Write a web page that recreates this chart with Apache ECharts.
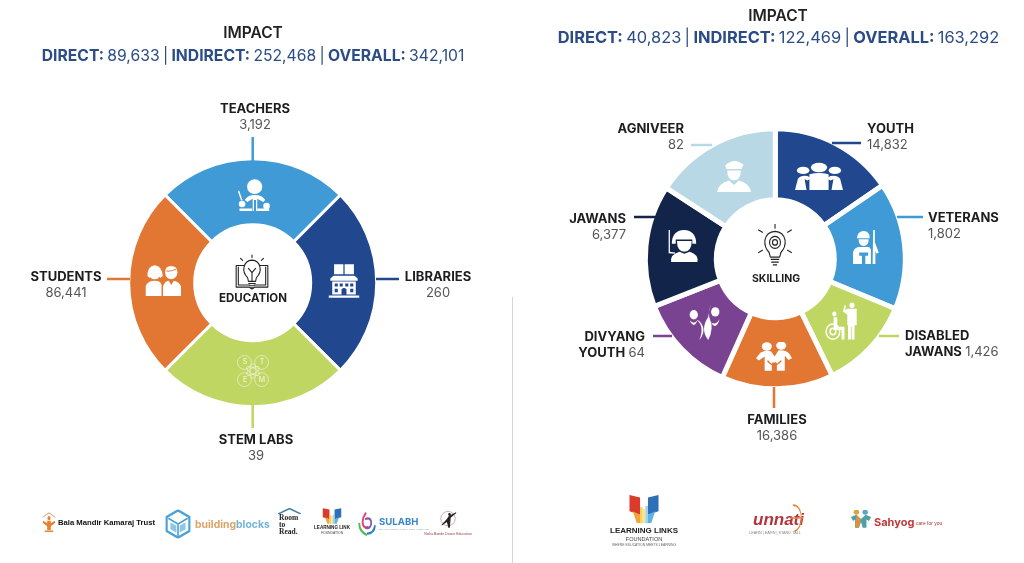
<!DOCTYPE html>
<html><head><meta charset="utf-8">
<style>html,body{margin:0;padding:0;background:#fff}#c{width:1024px;height:563px}</style>
<script src="https://cdn.jsdelivr.net/npm/echarts@6/dist/echarts.min.js"></script>
</head><body><div id="c"></div>
<script>
// ---- data ----
const eduNames = ['TEACHERS','LIBRARIES','STEM LABS','STUDENTS'];
const eduValues = ['3,192','260','39','86,441'];
const eduSliceAngles = [90,90,90,90];
const eduColors = ['#3f9ad6','#21478f','#c0d663','#e27633'];

const skillNames = ['YOUTH','VETERANS','DISABLED JAWANS','FAMILIES','DIVYANG YOUTH','JAWANS','AGNIVEER'];
const skillValues = ['14,832','1,802','1,426','16,386','64','6,377','82'];
const skillSliceAngles = [55.6,57,41.5,50,44.5,54.5,57];
const skillColors = ['#21478f','#3f9ad6','#c0d663','#e27633','#7a4392','#13244a','#b9d8e6'];

const eduImpact = ['89,633','252,468','342,101'];
const skillImpact = ['40,823','122,469','163,292'];

// ---- label layout (page pixels) ----
const eduAnchors = [[255,117,'center'],[438,285,'center'],[256,448,'center'],[66,285,'center']];
const skillAnchors = [[867,137,'left'],[928,226,'left'],[905,344,'left'],[777,428,'center'],[645,345,'right'],[626,227,'right'],[684,137,'right']];
const eduLeaders = [[252.7,137,252.7,161],[376,279,399,279],[252.7,405,252.7,428],[107,279,130,279]];
const skillLeaders = [[832,143,861,143],[897,217,923,217],[879,336,899,336],[774,387,774,408],[653,336,672,336],[634,217,655,217],[691,145,712,145]];

const FONT = 'Inter, "Open Sans", sans-serif';
const NAVY = '#2b4c86';
const rich = {
  n:{fontFamily:FONT,fontWeight:700,fontSize:13,color:'#1d1d1f',lineHeight:15.5},
  v:{fontFamily:FONT,fontWeight:400,fontSize:13,color:'#555',lineHeight:15.5}
};
function labelText(name,val){
  if(name==='DIVYANG YOUTH') return '{n|DIVYANG}\n{n|YOUTH} {v|'+val+'}';
  if(name==='DISABLED JAWANS') return '{n|DISABLED}\n{n|JAWANS} {v|'+val+'}';
  return '{n|'+name+'}\n{v|'+val+'}';
}
function pie(center,radius,start,border,names,vals,angles,colors,anchors){
  return {type:'pie',center,radius,startAngle:start,clockwise:true,silent:true,animation:false,
    itemStyle:{borderColor:'#fff',borderWidth:border},
    labelLine:{show:false},
    data:names.map((n,i)=>({name:n,value:angles[i],
      itemStyle:{color:colors[i]},
      label:{show:true,overflow:'none',formatter:labelText(n,vals[i]),rich,align:anchors[i][2]}})),
    labelLayout:p=>{const a=anchors[p.dataIndex];return {x:a[0],y:a[1],align:a[2],verticalAlign:'middle'};}
  };
}

// ---- icons ----
function svg(w,h,inner){return 'data:image/svg+xml;charset=utf-8,'+encodeURIComponent('<svg xmlns="http://www.w3.org/2000/svg" width="'+w*3+'" height="'+h*3+'" viewBox="0 0 100 100" preserveAspectRatio="none">'+inner+'</svg>');}
function img(cx,cy,w,h,inner){return {type:'image',z:20,silent:true,style:{image:svg(w,h,inner),x:cx-w/2,y:cy-h/2,width:w,height:h}};}
const W='fill="#fff"';
const icTeacher='<g '+W+'><circle cx="52" cy="24" r="23"/><path d="M22 66Q30 50 52 50Q76 50 84 66L78 72L60 62V100H56V66H50V100H46V62L30 72Z"/><circle cx="14" cy="78" r="10"/><circle cx="88" cy="84" r="10"/><path d="M1 38L5 36L15 66L11 68Z"/><path d="M6 92H44V100H6ZM60 92H96V100H60Z"/></g>';
const icStudents='<g '+W+'><circle cx="27" cy="32" r="16"/><path d="M7 38Q6 6 27 4Q48 6 49 38L42 44V28Q27 26 14 28V44Z"/><path d="M2 100V68Q8 52 27 52Q44 52 46 66V100Z"/><path d="M72 6Q90 6 90 26Q90 46 72 48Q56 46 56 26Q56 6 72 6Z" /><path d="M50 100V70Q54 54 66 52L73 66L80 52Q96 56 100 70V100Z"/></g><path d="M60 22Q72 24 86 16" stroke="#e27633" stroke-width="3" fill="none"/>';
const icLib='<g '+W+'><path d="M18 6H48V34H18ZM52 6H82V34H52Z"/><path d="M6 46L16 38H84L94 46V52H6Z"/><path fill-rule="evenodd" d="M12 54H88V90H12ZM20 60V68H30V60ZM36 60V68H46V60ZM54 60V68H64V60ZM70 60V68H80V60ZM20 74V84H30V74ZM70 74V84H80V74ZM42 90H58V76Q50 68 42 76Z"/><path d="M0 93H100V99H0Z"/></g>';
const icBulb=(s)=>'<g fill="none" stroke="#222" stroke-width="'+s+'" stroke-linecap="round" stroke-linejoin="round">';
const icEdu=icBulb(3)+'<path d="M38 66Q24 52 28 36Q32 18 50 17Q68 18 72 36Q76 52 62 66L60 76H40Z"/><path d="M41 82H59M43 88H57M46 94H54"/><path d="M50 74V50M50 52L40 40M50 52L60 40"/><path d="M50 3V10M18 12L24 18M82 12L76 18"/><path d="M28 32H6V92H42L50 97L58 92H94V32H72"/><path d="M12 36V86H44M88 36V86H56"/></g>';
const icSkill=icBulb(2.6)+'<path d="M36 62Q24 50 26 35Q30 17 50 16Q70 17 74 35Q76 50 64 62L61 72H39Z"/><path d="M41 77H59M42 83H58M46 89H54"/><circle cx="50" cy="40" r="13"/><circle cx="50" cy="40" r="6"/><path d="M50 0V9M11 13L20 18M89 13L80 18M11 62L20 57M89 62L80 57"/></g>';
const icYouth='<g '+W+'><circle cx="50" cy="20" r="17"/><circle cx="17" cy="30" r="13"/><circle cx="83" cy="30" r="13"/><path d="M30 44Q50 34 70 44V100H30Z"/><path d="M0 100L6 60Q12 46 26 50L34 58L26 66L20 62L24 100ZM100 100L94 60Q88 46 74 50L66 58L74 66L80 62L76 100Z"/></g>';
const icAgni='<g '+W+'><path d="M24 18Q50 -6 78 16L72 28H28Z"/><path d="M30 32H70Q70 58 50 60Q30 58 30 32Z"/><path d="M0 92Q4 68 36 60L50 72L64 60Q96 68 100 92Z"/></g>';
const icVet='<g '+W+'><path d="M14 24Q16 4 38 3Q60 4 60 24Z"/><path d="M20 27H56Q56 46 38 47Q20 46 20 27Z"/><path d="M0 100V66Q2 54 20 50H56Q62 52 64 58V100H44V76H54V66H22V76H32V100Z"/><path d="M72 0H78V36L92 66L84 70L80 62V100H70Z"/></g>';
const icJawan='<g '+W+'><path d="M12 46Q12 8 50 6Q88 8 88 46H76V34H24V46Z"/><path d="M28 38H74Q74 68 51 70Q28 68 28 38Z"/><path d="M10 100Q6 78 36 70L51 76L68 70Q96 78 92 100Z"/><path d="M2 6H6V70L22 72V76L2 74Z"/></g>';
const icDisab='<g '+W+'><circle cx="75" cy="8" r="7"/><path d="M62 17H88V58H82V94H74V62H72V94H64V58H62V32L50 24L54 8L58 9L56 20Z"/><circle cx="26" cy="30" r="6"/><path d="M24 38H34V62H54V94H46V70H24Z"/></g><g fill="none" stroke="#fff"><circle cx="22" cy="74" r="19" stroke-width="4"/><circle cx="22" cy="74" r="8" stroke-width="4"/></g>';
const icFam='<g '+W+'><circle cx="30" cy="15" r="14"/><circle cx="70" cy="12" r="14"/><path d="M12 36Q28 24 42 32L52 48L62 28Q80 24 92 38L100 54L90 60L80 46V96H58V70Q52 60 44 70V96H24V48L8 62L0 54Z"/><circle cx="50" cy="58" r="10"/></g><path d="M32 62Q50 92 70 62" stroke="#e27633" stroke-width="4" fill="none"/>';
const icDiv='<g '+W+'><circle cx="15" cy="30" r="13"/><circle cx="82" cy="22" r="13"/><path d="M32 100Q50 64 24 44Q36 46 44 64Q50 82 32 100Z"/><path d="M60 100Q34 70 60 36L68 0Q58 30 66 44Q78 70 60 100Z"/><path d="M2 46Q16 58 26 46Q16 70 2 46ZM96 42Q82 62 68 50Q84 76 96 42Z"/></g>';
const icAtom='<g fill="none" stroke="#eef3d6" stroke-width="2.2"><circle cx="24" cy="24" r="21"/><circle cx="76" cy="24" r="21"/><circle cx="24" cy="76" r="21"/><circle cx="76" cy="76" r="21"/><ellipse cx="50" cy="50" rx="9" ry="22"/><ellipse cx="50" cy="50" rx="9" ry="22" transform="rotate(60 50 50)"/><ellipse cx="50" cy="50" rx="9" ry="22" transform="rotate(120 50 50)"/></g>';
const logoPerson='<g fill="#e8802e"><circle cx="50" cy="32" r="10"/><path d="M38 44H62V56L88 44L92 54L62 70V88H38V70L8 54L12 44L38 56Z"/><path d="M22 90H78V98H22Z"/></g><path d="M8 28L50 6L92 28" stroke="#d8a070" stroke-width="5" fill="none"/>';
const logoHex='<path d="M50 3L92 26V74L50 97L8 74V26Z" fill="none" stroke="#4ba3d4" stroke-width="8"/><path d="M50 50L14 30M50 50L86 30M50 50V92" stroke="#4ba3d4" stroke-width="6"/><path d="M22 44L44 56V80L22 68ZM78 44L56 56V80L78 68Z" fill="#8cc7e6"/>';
const logoBooks='<path d="M6 2L38 10V70L6 58Z" fill="#dd3a2e"/><path d="M94 2L62 10V70L94 58Z" fill="#2e6fb7"/><path d="M16 58L38 70V98H28Z" fill="#f2a33a"/><path d="M38 44H46V100H38Z" fill="#f8d25a"/><path d="M46 50H54V98H46Z" fill="#f7e58c"/><path d="M54 40H62V100H54Z" fill="#9fd3ec"/><path d="M84 58L62 70V98H72Z" fill="#5fb2e2"/>';
const logoSwirl='<path d="M45 3Q20 30 30 55Q38 70 58 62" fill="none" stroke="#e8407d" stroke-width="10"/><path d="M10 45Q6 80 50 96" fill="none" stroke="#55b85a" stroke-width="10"/><path d="M92 56Q88 90 50 90" fill="none" stroke="#2f80c8" stroke-width="10"/><path d="M40 30Q74 18 72 50Q66 72 42 66" fill="none" stroke="#8a55b0" stroke-width="9"/>';
const logoDancer='<circle cx="50" cy="48" r="38" fill="none" stroke="#c98e96" stroke-width="4"/><g fill="#222"><circle cx="58" cy="26" r="7"/><path d="M54 34L92 14L94 18L64 44L60 96H52L44 66L18 84L16 80L44 50Z"/></g>';
const logoRoof='<path d="M0 100L50 10L100 100" fill="none" stroke="#3b7ea8" stroke-width="14"/>';
const logoKids='<g><circle cx="28" cy="14" r="13" fill="#e8a03a"/><circle cx="70" cy="14" r="13" fill="#5aa6c8"/><path d="M2 40L28 28L50 50L72 28L98 40L88 60L76 52V96H58L50 66L40 96H22V52L12 60Z" fill="#4fa0a8"/><path d="M28 30L50 50L40 96H22Z" fill="#e0903a"/></g>';
const logoArc='<path d="M18 4Q78 4 84 50Q80 88 30 98" fill="none" stroke="#e6873a" stroke-width="7"/><path d="M2 50H96" stroke="#e6873a" stroke-width="5"/>';

function T(x,y,text,font,fill,align){return {type:'text',z:20,silent:true,style:{x,y,text,font,fill,textAlign:align||'left',textVerticalAlign:'middle'}};}
function lines(arr,colors,w){return arr.map((l,i)=>({type:'line',z:20,silent:true,shape:{x1:l[0],y1:l[1],x2:l[2],y2:l[3]},style:{stroke:colors[i],lineWidth:w}}));}
function impact(cx,y,v,size){return {type:'text',z:20,silent:true,style:{x:cx,y,textAlign:'center',textVerticalAlign:'middle',
  text:'{b|DIRECT:} {r|'+v[0]+'} {r||} {b|INDIRECT:} {r|'+v[1]+'} {r||} {b|OVERALL:} {r|'+v[2]+'}',
  rich:{b:{font:'700 '+size+'px '+FONT,fill:NAVY},r:{font:'400 '+size+'px '+FONT,fill:NAVY}}}};}

const HF='"Liberation Sans", Arial, sans-serif';
const graphics=[
  {type:'line',z:20,silent:true,shape:{x1:512.5,y1:297,x2:512.5,y2:563},style:{stroke:'#d6d6d6',lineWidth:1}},
  T(253,33,'IMPACT','600 15.5px '+FONT,'#222','center'),
  impact(253,56,eduImpact,15.7),
  T(778,16,'IMPACT','600 15.5px '+FONT,'#222','center'),
  impact(778.5,38,skillImpact,16.4),
  T(253,299,'EDUCATION','700 11.5px '+FONT,'#1d1d1f','center'),
  T(776,279,'SKILLING','700 10.5px '+FONT,'#1d1d1f','center'),
  ...lines(eduLeaders,eduColors,2.5),
  ...lines(skillLeaders,skillColors,2.5),
  img(254,195,33,32,icTeacher),
  img(163,280,36,32,icStudents),
  img(344,280,31,36,icLib),
  img(253,371,33,33,icAtom),
  T(245,362,'S','500 7px '+FONT,'#eef3d6','center'),
  T(262,362,'T','500 7px '+FONT,'#eef3d6','center'),
  T(245,380,'E','500 7px '+FONT,'#eef3d6','center'),
  T(262,380,'M','500 7px '+FONT,'#eef3d6','center'),
  img(252,272,36,36,icEdu),
  img(775,247,42,46,icSkill),
  img(819,176,48,28,icYouth),
  img(734,177,34,36,icAgni),
  img(867,247,28,34,icVet),
  img(684,245,32,34,icJawan),
  img(843,322,36,40,icDisab),
  img(774,357,36,30,icFam),
  img(705,322,32,36,icDiv),
  // left logos
  img(49,522,15,21,logoPerson),
  T(58,523,'Bala Mandir Kamaraj Trust','700 7.7px '+HF,'#111'),
  img(178,524,27,29,logoHex),
  {type:'text',z:20,silent:true,style:{x:195,y:525,textVerticalAlign:'middle',text:'{a|building}{b|blocks}',rich:{a:{font:'700 10.4px '+FONT,fill:'#dca36a'},b:{font:'700 10.4px '+FONT,fill:'#74b4da'}}}},
  img(289.5,511,23,6,logoRoof),
  T(279,518,'Room','700 7.5px "Liberation Serif", serif','#222'),
  T(279,525,'to','700 7.5px "Liberation Serif", serif','#222'),
  T(279,532,'Read.','700 7.5px "Liberation Serif", serif','#222'),
  img(332,516,21,16,logoBooks),
  T(332,528,'LEARNING LINK','700 4.6px '+HF,'#222','center'),
  T(332,533,'FOUNDATION','400 3.4px '+HF,'#444','center'),
  img(367,524,19,24,logoSwirl),
  T(379,522,'SULABH','700 9.6px '+FONT,'#3a86c8'),
  T(379,529,'SULABH INTERNATIONAL SOCIAL SERVICE','400 2.4px '+HF,'#8aa','left'),
  img(448,519,19,19,logoDancer),
  T(448,534,'Nisha Bande Dance Education','400 3.5px '+HF,'#9a3a45','center'),
  // right logos
  img(644,509,33,29,logoBooks),
  T(644,531,'LEARNING LINKS','700 8px "Liberation Sans Narrow", '+HF,'#222','center'),
  T(644,539,'FOUNDATION','400 5.6px '+HF,'#444','center'),
  T(644,545,'WHERE EDUCATION MEETS LEARNING','400 3.4px '+HF,'#666','center'),
  T(753,520,'unnati','italic 700 17px '+HF,'#b5333a'),
  img(797,518,13,28,logoArc),
  T(775,533,'LEARN | EARN | STAND TALL','400 3.8px '+HF,'#888','center'),
  img(861,519,21,19,logoKids),
  T(874,523,'Sahyog','700 11px '+FONT,'#c23a3a'),
  T(916,524,'care for you','400 5px '+HF,'#a33','left')
];

const chart=echarts.init(document.getElementById('c'),null,{renderer:'canvas'});
chart.setOption({
  animation:false,backgroundColor:'#fff',
  series:[
    pie([252.7,282.7],[58,124],135,3,eduNames,eduValues,eduSliceAngles,eduColors,eduAnchors),
    pie([775.3,258.8],[59,130],90,5,skillNames,skillValues,skillSliceAngles,skillColors,skillAnchors)
  ],
  graphic:{elements:graphics}
});
</script></body></html>
